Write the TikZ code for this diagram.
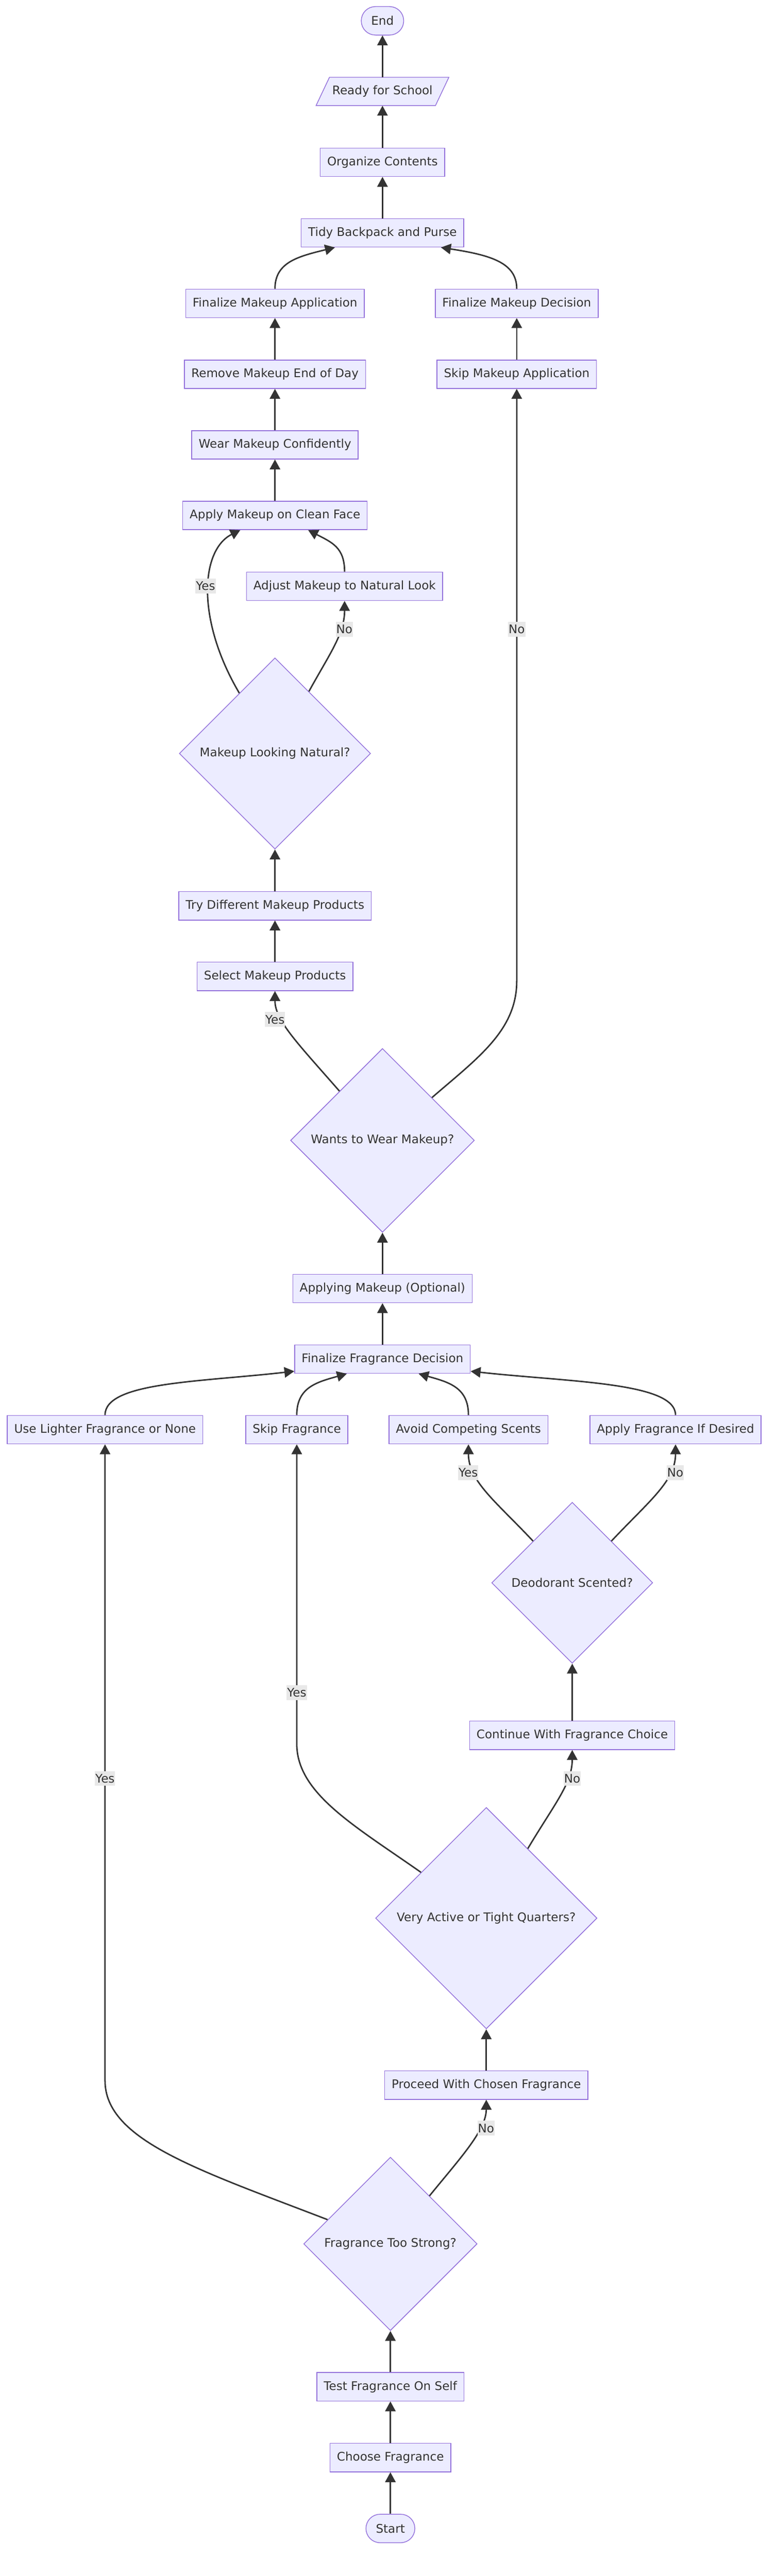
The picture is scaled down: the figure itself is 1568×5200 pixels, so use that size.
\documentclass[tikz,border=0pt]{standalone}
\usepackage{fontspec}
\setmainfont{DejaVu Sans}
\usetikzlibrary{shapes.geometric,arrows.meta,calc,backgrounds}
\definecolor{nfill}{HTML}{ECECFF}
\definecolor{nline}{HTML}{9370DB}
\definecolor{ecol}{HTML}{333333}
\definecolor{lbg}{HTML}{E8E8E8}
\begin{document}
\begin{tikzpicture}[x=0.5pt,y=-0.5pt,
  font=\fontsize{12pt}{14pt}\selectfont,
  box/.style={draw=nline,fill=nfill,line width=0.75pt,rectangle,minimum height=28.75pt,inner xsep=7pt,inner ysep=0pt,text=ecol},
  term/.style={box,rounded corners=14.3pt,inner xsep=10pt},
  dec/.style={draw=nline,fill=nfill,line width=0.75pt,diamond,aspect=1,inner sep=0pt,minimum width=#1,minimum height=#1,text=ecol},
  edge/.style={draw=ecol,line width=1.45pt,-{Triangle[length=10pt,width=10.5pt]}},
  lbl/.style={fill=lbg,inner xsep=0.5pt,inner ysep=0pt,minimum height=15pt,text=ecol}]
\useasboundingbox (0,0) rectangle (1568,5200);

% nodes
\node[term] (End) at (772,42) {End};
\node[minimum width=120.5pt,minimum height=28.5pt,inner sep=0pt,text=ecol] (Ready) at (772,184.5) {Ready for School};
\begin{scope}[on background layer]
\fill[white] (0,0) rectangle (1568,5200);
\filldraw[draw=nline,fill=nfill,line width=0.75pt]
  ($(Ready.center)+(-107,-28.5)$) -- ($(Ready.center)+(134,-28.5)$) --
  ($(Ready.center)+(107,28.5)$) -- ($(Ready.center)+(-134,28.5)$) -- cycle;
\end{scope}
\node[box] (Organize) at (772,327.5) {Organize Contents};
\node[box] (Tidy) at (772,470) {Tidy Backpack and Purse};
\node[box] (FMA) at (555,612.5) {Finalize Makeup Application};
\node[box] (FMD) at (1043,612.5) {Finalize Makeup Decision};
\node[box] (Remove) at (555,755.5) {Remove Makeup End of Day};
\node[box] (SkipMk) at (1043,755.5) {Skip Makeup Application};
\node[box] (Wear) at (555,898) {Wear Makeup Confidently};
\node[box] (Apply) at (555,1040.5) {Apply Makeup on Clean Face};
\node[box] (Adjust) at (695.5,1183.5) {Adjust Makeup to Natural Look};
\node[dec=193pt] (MLN) at (555,1521) {Makeup Looking Natural?};
\node[box] (Try) at (555,1828.5) {Try Different Makeup Products};
\node[box] (Select) at (555,1971) {Select Makeup Products};
\node[dec=185.5pt] (Wants) at (772,2302) {Wants to Wear Makeup?};
\node[box] (ApplyOpt) at (772,2601) {Applying Makeup (Optional)};
\node[box] (FFD) at (772,2743.5) {Finalize Fragrance Decision};
\node[box] (UseLighter) at (212,2886) {Use Lighter Fragrance or None};
\node[box] (SkipFrag) at (599,2886) {Skip Fragrance};
\node[box] (Avoid) at (945.5,2886) {Avoid Competing Scents};
\node[box] (ApplyFrag) at (1363.5,2886) {Apply Fragrance If Desired};
\node[dec=162.5pt] (Deo) at (1155,3195) {Deodorant Scented?};
\node[box] (Continue) at (1155,3503) {Continue With Fragrance Choice};
\node[dec=223.5pt] (VA) at (981.5,3872) {Very Active or Tight Quarters?};
\node[box] (Proceed) at (981.5,4209) {Proceed With Chosen Fragrance};
\node[dec=175pt] (FTS) at (788,4529.5) {Fragrance Too Strong?};
\node[box] (Test) at (788,4818) {Test Fragrance On Self};
\node[box] (Choose) at (788,4961) {Choose Fragrance};
\node[term] (Start) at (788,5104) {Start};

% edges
\draw[edge] (Start) -- (Choose);
\draw[edge] (Choose) -- (Test);
\draw[edge] (Test) -- (FTS);
\draw[edge] (FTS) .. controls (930,4355) and (981.5,4300) .. (Proceed.south);
\draw[edge] (FTS) .. controls (400,4380) and (212,4320) .. (212,4200) -- (UseLighter.south);
\draw[edge] (Proceed) -- (VA);
\draw[edge] (VA) .. controls (715,3685) and (599,3620) .. (599,3520) -- (SkipFrag.south);
\draw[edge] (VA) .. controls (1120,3640) and (1155,3600) .. (Continue.south);
\draw[edge] (Continue) -- (Deo);
\draw[edge] (Deo) .. controls (1000,3030) and (945.5,2990) .. (Avoid.south);
\draw[edge] (Deo) .. controls (1310,3030) and (1363.5,2990) .. (ApplyFrag.south);
\draw[edge] (UseLighter.north) .. controls (212,2790) and (400,2790) .. ($(FFD.south west)+(0,-5)$);
\draw[edge] (SkipFrag.north) .. controls (599,2800) and (640,2790) .. ($(FFD.south)+(-72,0)$);
\draw[edge] (Avoid.north) .. controls (945.5,2800) and (905,2790) .. ($(FFD.south)+(73,0)$);
\draw[edge] (ApplyFrag.north) .. controls (1363.5,2790) and (1150,2790) .. ($(FFD.south east)+(0,-5)$);
\draw[edge] (FFD) -- (ApplyOpt);
\draw[edge] (ApplyOpt) -- (Wants);
\draw[edge] (Wants) .. controls (600,2105) and (555,2060) .. (Select.south);
\draw[edge] (Wants) .. controls (965,2135) and (1043,2080) .. (1043,1980) -- (SkipMk.south);
\draw[edge] (Select) -- (Try);
\draw[edge] (Try) -- (MLN);
\draw[edge] (MLN) .. controls (395,1250) and (405,1110) .. ($(Apply.south)+(-70,0)$);
\draw[edge] (MLN) .. controls (665,1320) and (695.5,1280) .. (Adjust.south);
\draw[edge] (Adjust.north) .. controls (695.5,1105) and (670,1095) .. ($(Apply.south)+(67,0)$);
\draw[edge] (Apply) -- (Wear);
\draw[edge] (Wear) -- (Remove);
\draw[edge] (Remove) -- (FMA);
\draw[edge] (SkipMk) -- (FMD);
\draw[edge] (FMA.north) .. controls (555,530) and (600,518) .. ($(Tidy.south)+(-96,0)$);
\draw[edge] (FMD.north) .. controls (1043,530) and (990,515) .. ($(Tidy.south)+(118,0)$);
\draw[edge] (Tidy) -- (Organize);
\draw[edge] (Organize) -- (Ready);
\draw[edge] (Ready) -- (End);

% edge labels
\node[lbl] (l1) at (415,1183) {Yes};
\node[lbl] (l2) at (695,1270) {No};
\node[lbl] (l3) at (1043,1270) {No};
\node[lbl] (l4) at (555,2058) {Yes};
\node[lbl] (l5) at (945,2973) {Yes};
\node[lbl] (l6) at (1363,2973) {No};
\node[lbl] (l7) at (599,3417) {Yes};
\node[lbl] (l8) at (212,3590) {Yes};
\node[lbl] (l9) at (1155,3590) {No};
\node[lbl] (l10) at (981,4296) {No};
\end{tikzpicture}
\end{document}
